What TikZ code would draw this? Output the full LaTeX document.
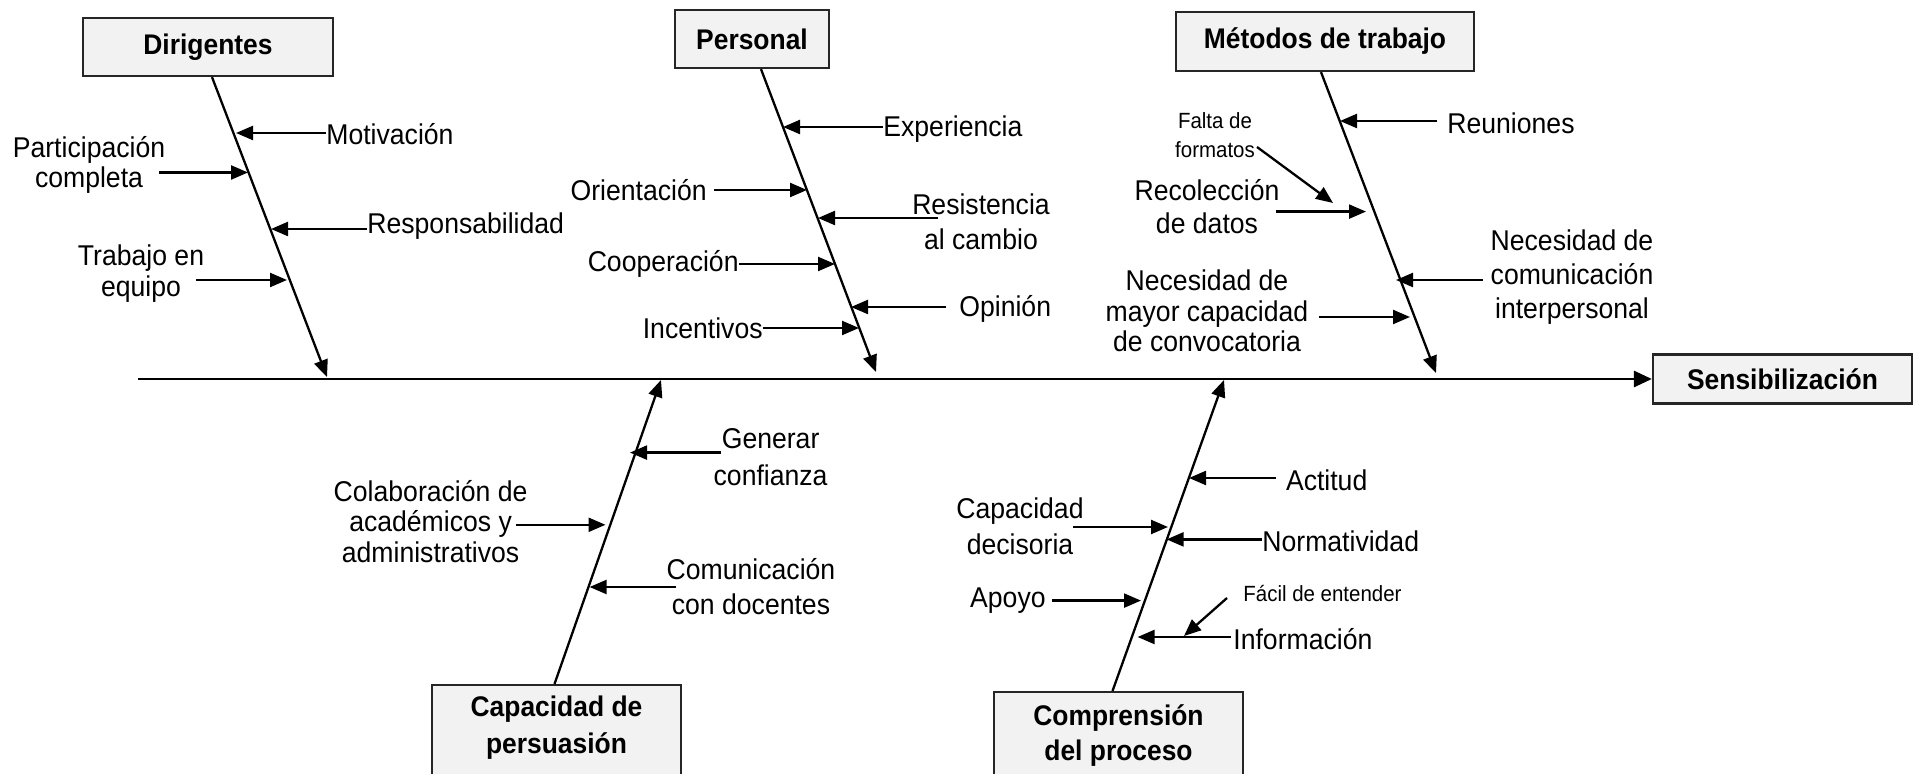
\documentclass[tikz,border=0pt]{standalone}
\usepackage{fontspec}
\setmainfont{Liberation Sans}[FakeStretch=0.93]
\usetikzlibrary{arrows.meta}
\begin{document}
\begin{tikzpicture}[x=0.5pt,y=-0.5pt,
  arr/.style={line width=1.15pt,-{Triangle[length=8.5pt,width=7pt]}},
  box/.style={draw=black!85,line width=1.1pt,fill=black!5,font=\fontsize{14.2}{17}\selectfont\bfseries,align=center,inner sep=0pt},
  lb/.style={inner sep=0pt,font=\fontsize{14.3}{16}\selectfont,align=center},
  bt/.style={inner sep=0pt,align=center},
  sm/.style={inner sep=0pt,font=\fontsize{11}{14.5}\selectfont,align=center},
]
\useasboundingbox (0,0) rectangle (1918,774);

% category boxes
\node[box,minimum width=125pt,minimum height=29pt] (dir) at (208,47) {Dirigentes};
\node[box,minimum width=77pt,minimum height=29pt] (per) at (752,39) {Personal};
\node[box,minimum width=149pt,minimum height=29.5pt] (met) at (1325,41.5) {Métodos de trabajo};
\node[box,minimum width=129.5pt,minimum height=24.5pt] (sen) at (1782.5,379) {Sensibilización};
\node[box,minimum width=124.5pt,minimum height=60pt,anchor=north] (cap) at (556.5,684) {};
\node[bt,font=\fontsize{14.2}{18.5}\selectfont\bfseries] (capt) at (556.5,728) {Capacidad de\\persuasión};
\node[box,minimum width=124.5pt,minimum height=60pt,anchor=north] (com) at (1118.5,691) {};
\node[bt,font=\fontsize{14.2}{17.5}\selectfont\bfseries] (comt) at (1118.5,736) {Comprensión\\del proceso};

% main line
\coordinate (m0) at (138,379);
\draw[arr,line width=1.4pt,-{Triangle[length=9pt,width=8pt]}] (m0) -- (sen.west);

% spines
\coordinate (dT) at (327,377);
\draw[arr] ([xshift=2pt]dir.south) -- (dT);
\coordinate (pT) at (876,372);
\draw[arr] ([xshift=4.5pt]per.south) -- (pT);
\coordinate (mT) at (1436,373);
\draw[arr] ([xshift=-2pt]met.south) -- (mT);
\coordinate (cT) at (661,380);
\draw[arr] ([xshift=-1pt]cap.north) -- (cT);
\coordinate (kT) at (1224,380);
\draw[arr] ([xshift=-3pt]com.north) -- (kT);

% Dirigentes
\node[lb,anchor=west] (mot) at (326,134) {Motivación};
\coordinate (mot1) at (236,133);
\draw[arr] (mot.west |- mot1) -- (mot1);
\node[lb,font=\fontsize{14.3}{15.3}\selectfont] (par) at (89,165) {Participación\\completa};
\coordinate (par0) at (159,172.5); \coordinate (par1) at (248,172.5);
\draw[arr] (par0) -- (par1);
\node[lb,anchor=west] (res) at (367,226) {Responsabilidad};
\coordinate (res1) at (271,229);
\draw[arr] (res.west |- res1) -- (res1);
\node[lb,font=\fontsize{14.3}{15.5}\selectfont] (tra) at (141,274) {Trabajo en\\equipo};
\coordinate (tra0) at (196,280); \coordinate (tra1) at (287,280);
\draw[arr] (tra0) -- (tra1);

% Personal
\node[lb,anchor=west] (exp) at (883,129) {Experiencia};
\coordinate (exp1) at (783,127);
\draw[arr] (exp.west |- exp1) -- (exp1);
\node[lb,anchor=east] (ori) at (707,190) {Orientación};
\coordinate (ori0) at (714,190); \coordinate (ori1) at (807,190);
\draw[arr] (ori0) -- (ori1);
\node[lb,font=\fontsize{14.3}{17.7}\selectfont] (resi) at (981,221.5) {Resistencia\\al cambio};
\coordinate (resi0) at (938,218); \coordinate (resi1) at (818,218);
\draw[arr] (resi0) -- (resi1);
\node[lb,anchor=east] (coo) at (739,264) {Cooperación};
\coordinate (coo1) at (835,264);
\draw[arr] (coo.east |- coo1) -- (coo1);
\node[lb,anchor=west] (opi) at (959,309) {Opinión};
\coordinate (opi0) at (945.5,307); \coordinate (opi1) at (851,307);
\draw[arr] (opi0) -- (opi1);
\node[lb,anchor=east] (inc) at (763,328) {Incentivos};
\coordinate (inc1) at (859,328);
\draw[arr] (inc.east |- inc1) -- (inc1);

% Metodos de trabajo
\node[lb,anchor=west] (reu) at (1447,123) {Reuniones};
\coordinate (reu0) at (1437,121); \coordinate (reu1) at (1340,121);
\draw[arr] (reu0) -- (reu1);
\node[sm] (fal) at (1215,135) {Falta de\\formatos};
\coordinate (fal0) at (1257,147); \coordinate (fal1) at (1333,203);
\draw[arr] (fal0) -- (fal1);
\node[lb,font=\fontsize{14.3}{16.5}\selectfont] (rec) at (1207,207) {Recolección\\de datos};
\coordinate (rec0) at (1276,211.6); \coordinate (rec1) at (1366,211.6);
\draw[arr] (rec0) -- (rec1);
\node[lb,font=\fontsize{14.3}{17}\selectfont] (nec) at (1572,277) {Necesidad de\\comunicación\\interpersonal};
\coordinate (nec0) at (1482.5,280); \coordinate (nec1) at (1396,280);
\draw[arr] (nec0) -- (nec1);
\node[lb,font=\fontsize{14.3}{15.3}\selectfont] (may) at (1207,311) {Necesidad de\\mayor capacidad\\de convocatoria};
\coordinate (may0) at (1318.6,317); \coordinate (may1) at (1410,317);
\draw[arr] (may0) -- (may1);

% Capacidad de persuasion
\node[lb,font=\fontsize{14.3}{18.3}\selectfont] (gen) at (770.6,457) {Generar\\confianza};
\coordinate (gen0) at (720.5,452.6); \coordinate (gen1) at (630,452.6);
\draw[arr] (gen0) -- (gen1);
\node[lb,font=\fontsize{14.3}{15.3}\selectfont] (col) at (430.6,521.5) {Colaboración de\\académicos y\\administrativos};
\coordinate (col0) at (516,524.8); \coordinate (col1) at (605.5,524.8);
\draw[arr] (col0) -- (col1);
\node[lb,font=\fontsize{14.3}{17.5}\selectfont] (cdo) at (751,587) {Comunicación\\con docentes};
\coordinate (cdo0) at (676.4,587); \coordinate (cdo1) at (589.6,587);
\draw[arr] (cdo0) -- (cdo1);

% Comprension del proceso
\node[lb,anchor=west] (act) at (1285.6,480) {Actitud};
\coordinate (act0) at (1276,478); \coordinate (act1) at (1189,478);
\draw[arr] (act0) -- (act1);
\node[lb,font=\fontsize{14.3}{18}\selectfont] (cde) at (1020,526.5) {Capacidad\\decisoria};
\coordinate (cde0) at (1073,527); \coordinate (cde1) at (1168,527);
\draw[arr] (cde0) -- (cde1);
\node[lb,anchor=west] (nor) at (1262,541) {Normatividad};
\coordinate (nor1) at (1166.6,539.4);
\draw[arr] (nor.west |- nor1) -- (nor1);
\node[lb,anchor=east] (apo) at (1046,601) {Apoyo};
\coordinate (apo0) at (1052,600.6); \coordinate (apo1) at (1141,600.6);
\draw[arr] (apo0) -- (apo1);
\node[sm,anchor=west] (fac) at (1243,594) {Fácil de entender};
\coordinate (fac0) at (1227,598); \coordinate (fac1) at (1184,636);
\draw[arr] (fac0) -- (fac1);
\node[lb,anchor=west] (inf) at (1233,639) {Información};
\coordinate (inf0) at (1230.6,637); \coordinate (inf1) at (1137.6,637);
\draw[arr] (inf0) -- (inf1);
\end{tikzpicture}
\end{document}
